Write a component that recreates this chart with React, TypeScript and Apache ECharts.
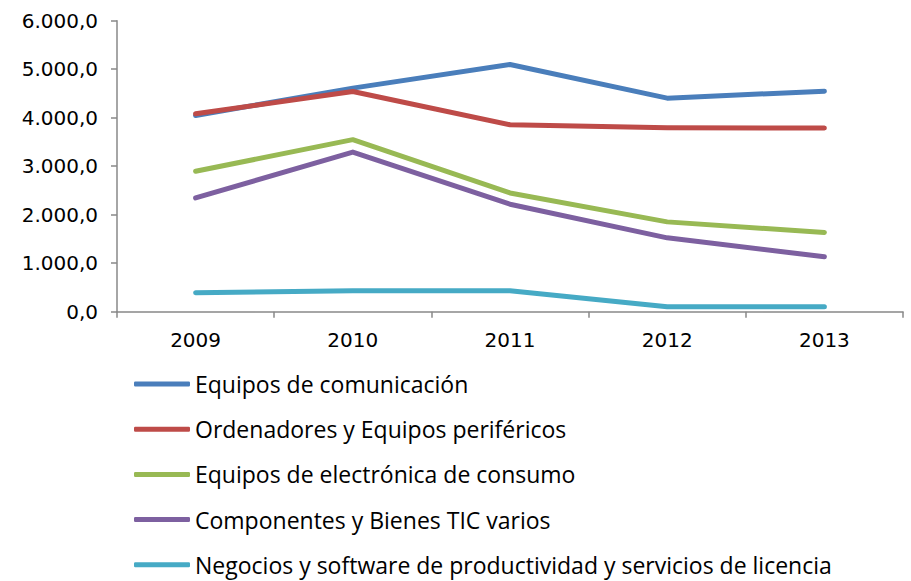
import React, { useEffect, useRef } from "react";
import * as echarts from "echarts";

const years = ["2009", "2010", "2011", "2012", "2013"];
const seriesNames = [
  "Equipos de comunicación",
  "Ordenadores y Equipos periféricos",
  "Equipos de electrónica de consumo",
  "Componentes y Bienes TIC varios",
  "Negocios y software de productividad y servicios de licencia",
];
const comunicacion = [4045, 4610, 5097, 4403, 4547];
const ordenadores = [4080, 4540, 3855, 3794, 3786];
const electronica = [2895, 3547, 2449, 1852, 1634];
const componentes = [2345, 3292, 2216, 1523, 1132];
const software = [390, 432, 432, 103, 103];
const seriesColors = ["#4A7EBB", "#BE4B48", "#98B954", "#7D60A0", "#46AAC5"];

const yTicks = { min: 0, max: 6000, interval: 1000 };

function fmt(v: number): string {
  const s = Math.round(v).toString().replace(/\B(?=(\d{3})+(?!\d))/g, ".");
  return s + ",0";
}

export default function App() {
  const ref = useRef<HTMLDivElement>(null);
  useEffect(() => {
    document.body.style.margin = "0";
    if (!ref.current) return;
    const chart = echarts.init(ref.current, undefined, { renderer: "svg" });
    const data = [comunicacion, ordenadores, electronica, componentes, software];
    const rowTop = 371;
    const rowStep = 45.2;
    chart.setOption({
      animation: false,
      backgroundColor: "#ffffff",
      grid: { left: 117, right: 8, top: 20.7, bottom: 269.3, containLabel: false },
      legend: seriesNames.map((name, i) => ({
        orient: "horizontal",
        left: 134,
        top: rowTop + i * rowStep,
        padding: 0,
        itemWidth: 56,
        itemHeight: 5,
        icon: "roundRect",
        textStyle: { fontFamily: "Open Sans", fontSize: 23, color: "#000", lineHeight: 26 },
        data: [name],
      })),
      xAxis: {
        type: "category",
        data: years,
        boundaryGap: true,
        axisLine: { lineStyle: { color: "#888888", width: 1.5 } },
        axisTick: { show: true, length: 6, lineStyle: { color: "#888888", width: 1.5 } },
        axisLabel: { fontFamily: "DejaVu Sans", fontSize: 20, color: "#000", margin: 18 },
        splitLine: { show: false },
      },
      yAxis: {
        type: "value",
        min: yTicks.min,
        max: yTicks.max,
        interval: yTicks.interval,
        axisLine: { show: true, lineStyle: { color: "#888888", width: 1.5 } },
        axisTick: { show: true, length: 6, lineStyle: { color: "#888888", width: 1.5 } },
        axisLabel: { fontFamily: "DejaVu Sans", fontSize: 20, color: "#000", margin: 19, formatter: (v: number) => fmt(v) },
        splitLine: { show: false },
      },
      series: seriesNames.map((name, i) => ({
        name,
        type: "line",
        data: data[i],
        showSymbol: false,
        symbol: "none",
        color: seriesColors[i],
        lineStyle: { width: 5, color: seriesColors[i], cap: "round", join: "round" },
      })),
    });
    return () => chart.dispose();
  }, []);
  return <div ref={ref} style={{ width: 911, height: 581 }} />;
}
